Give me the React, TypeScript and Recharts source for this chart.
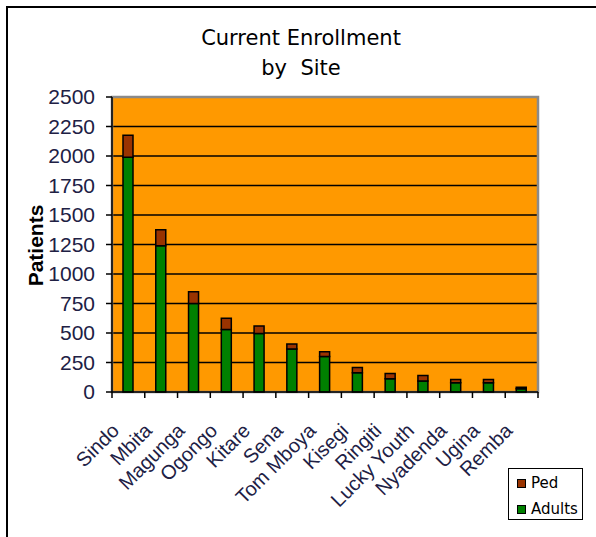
import React from 'react';
import { BarChart, Bar, XAxis, YAxis, CartesianGrid, ReferenceArea } from 'recharts';

const sites = ['Sindo', 'Mbita', 'Magunga', 'Ogongo', 'Kitare', 'Sena', 'Tom Mboya', 'Kisegi', 'Ringiti', 'Lucky Youth', 'Nyadenda', 'Ugina', 'Remba'];
const adults = [1990, 1240, 750, 530, 495, 365, 300, 163, 112, 94, 78, 78, 27];
const ped = [185, 135, 100, 95, 65, 42, 42, 45, 45, 45, 28, 28, 14];
const yTicks = [0, 250, 500, 750, 1000, 1250, 1500, 1750, 2000, 2250, 2500];

const seriesInfo = [
  { key: 'ped', name: 'Ped', color: '#993300' },
  { key: 'adults', name: 'Adults', color: '#008000' },
];

const data = sites.map((site, i) => ({ site, adults: adults[i], ped: ped[i] }));

const textColor = '#202044';
const axisFont = '"Liberation Sans", Arial, sans-serif';

// category labels sit under the band, tick marks go between the bands (excel style)
const SiteTick = (props: any) => {
  const { x, y, payload, index } = props;
  const half = payload.offset ?? 0;
  const last = index === sites.length - 1;
  return (
    <g>
      <line x1={x - half} x2={x - half} y1={y - 6} y2={y} stroke="#000" strokeWidth={1.5} />
      {last && <line x1={x + half} x2={x + half} y1={y - 6} y2={y} stroke="#000" strokeWidth={1.5} />}
      <text
        transform={`translate(${x - 8},${y + 34}) rotate(-45)`}
        textAnchor="end"
        fontSize={20}
        fontFamily={axisFont}
        fill={textColor}
      >
        {payload.value}
      </text>
    </g>
  );
};

const patientsLabel = (props: any) => {
  const vb = props.viewBox;
  return (
    <text
      transform={`translate(${vb.x + 43},${vb.y + vb.height / 2 + 1}) rotate(-90)`}
      textAnchor="middle"
      fontSize={21}
      fontWeight="bold"
      fontFamily={axisFont}
      fill="#000"
    >
      Patients
    </text>
  );
};

export default function App() {
  return (
    <div style={{ position: 'absolute', left: 0, top: 0, width: 596, height: 537, background: '#fff', overflow: 'hidden' }}>
      <div style={{ position: 'absolute', left: 6, top: 6, width: 620, height: 560, borderLeft: '2px solid #000', borderTop: '2px solid #000' }} />
      <div
        style={{
          position: 'absolute',
          left: 151,
          top: 23,
          width: 300,
          textAlign: 'center',
          fontFamily: '"DejaVu Sans", Verdana, sans-serif',
          fontSize: 21,
          lineHeight: '30px',
          color: '#000',
          whiteSpace: 'pre',
        }}
      >
        {'Current Enrollment\nby  Site'}
      </div>

      <BarChart
        width={596}
        height={537}
        data={data}
        margin={{ top: 97, right: 58, bottom: 0, left: 0 }}
        barSize={10}
        style={{ position: 'absolute', left: 0, top: 0 }}
      >
        <CartesianGrid vertical={false} stroke="#000" strokeWidth={1.5} fill="#FF9900" fillOpacity={1} />
        <ReferenceArea y1={0} y2={2500} fill="none" stroke="#8a8a8a" strokeWidth={2.5} ifOverflow="visible" />
        <XAxis
          dataKey="site"
          interval={0}
          height={145}
          tickLine={false}
          tickSize={6}
          tickMargin={0}
          axisLine={{ stroke: '#000', strokeWidth: 1.5 }}
          tick={<SiteTick />}
        />
        <YAxis
          width={112}
          domain={[0, 2500]}
          ticks={yTicks}
          interval={0}
          tickSize={6}
          tickMargin={11}
          axisLine={{ stroke: '#000', strokeWidth: 1.5 }}
          tickLine={{ stroke: '#000', strokeWidth: 1.5 }}
          tick={{ fill: textColor, fontSize: 21, fontFamily: axisFont }}
          label={patientsLabel}
        />
        <Bar dataKey="adults" name="Adults" stackId="a" fill="#008000" stroke="#000" strokeWidth={1.5} isAnimationActive={false} />
        <Bar dataKey="ped" name="Ped" stackId="a" fill="#993300" stroke="#000" strokeWidth={1.5} isAnimationActive={false} />
      </BarChart>

      <div
        style={{
          position: 'absolute',
          left: 508,
          top: 468,
          width: 73,
          height: 50,
          border: '1.5px solid #000',
          background: '#fff',
          fontFamily: '"DejaVu Sans", Tahoma, sans-serif',
          fontSize: 15,
          color: '#000',
        }}
      >
        {seriesInfo.map((s, i) => (
          <div key={s.key} style={{ position: 'absolute', left: 8, top: 5 + i * 26, display: 'flex', alignItems: 'center', height: 18 }}>
            <span style={{ display: 'inline-block', width: 7, height: 7, background: s.color, border: '1px solid #000', marginRight: 5 }} />
            <span>{s.name}</span>
          </div>
        ))}
      </div>
    </div>
  );
}
